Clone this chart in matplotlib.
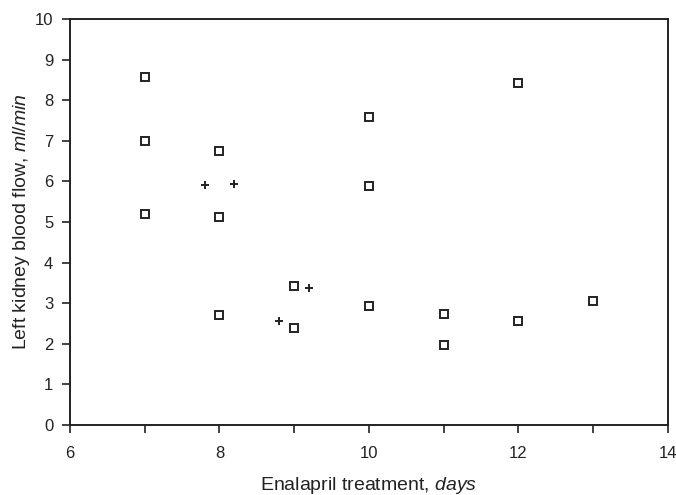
import matplotlib
matplotlib.use("Agg")
import matplotlib.pyplot as plt

plt.rcParams['font.family'] = ['Liberation Sans', 'DejaVu Sans']
plt.rcParams['mathtext.fontset'] = 'custom'
plt.rcParams['mathtext.rm'] = 'Liberation Sans'
plt.rcParams['mathtext.it'] = 'Liberation Sans:italic'

# Squares: individual measurements
sq_days = [7, 7, 7, 8, 8, 8, 9, 9, 10, 10, 10, 11, 11, 12, 12, 13]
sq_flow = [8.58, 7.0, 5.19, 6.75, 5.12, 2.7, 3.42, 2.38, 7.58, 5.88, 2.92, 2.74, 1.96, 8.42, 2.56, 3.06]

# Crosses
pl_days = [7.8, 8.2, 8.8, 9.2]
pl_flow = [5.91, 5.94, 2.56, 3.38]

x_ticks = [6, 8, 10, 12, 14]
y_ticks = list(range(0, 11))

fig = plt.figure(figsize=(6.76, 4.95), dpi=100)
ax = fig.add_axes([0.1036, 0.1414, 0.8844, 0.8202])

ax.plot(sq_days, sq_flow, linestyle='none', marker='s', markersize=6,
        markerfacecolor='white', markeredgecolor='#222222', markeredgewidth=1.4)
ax.plot(pl_days, pl_flow, linestyle='none', marker='+', markersize=6,
        color='#222222', markeredgewidth=1.4)

ax.set_xlim(6, 14)
ax.set_ylim(0, 10)
ax.set_xticks(x_ticks)
ax.set_xticks([7, 9, 11, 13], minor=True)
ax.set_yticks(y_ticks)
ax.tick_params(which='both', direction='out', length=6, width=1.2, colors='#222222',
               labelsize=12)
ax.tick_params(axis='x', pad=9)
ax.tick_params(axis='y', pad=6)

for s in ax.spines.values():
    s.set_linewidth(1.4)
    s.set_color('#222222')

ax.set_xlabel('Enalapril treatment, $\\mathit{days}$', fontsize=14, labelpad=10, color='#222222')
ax.set_ylabel('Left kidney blood flow, $\\mathit{ml/min}$', fontsize=14, labelpad=2, color='#222222')

fig.savefig('out.png', dpi=100)
